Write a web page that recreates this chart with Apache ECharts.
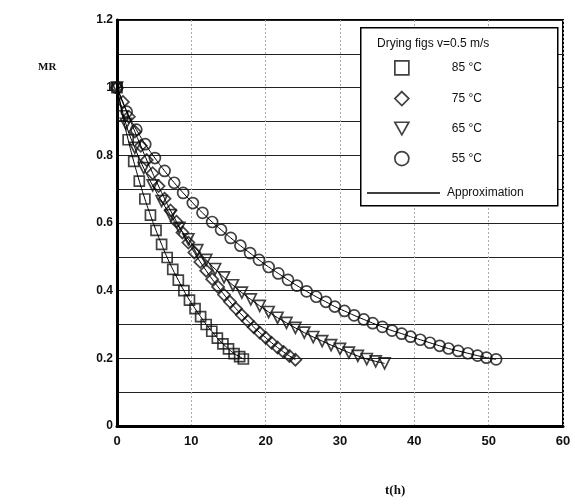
<!DOCTYPE html>
<html>
<head>
<meta charset="utf-8">
<script src="https://cdn.jsdelivr.net/npm/echarts@6.0.0/dist/echarts.min.js"></script>
<style>
html, body { margin: 0; padding: 0; background: #fff; }
#chart { width: 575px; height: 504px; }
</style>
</head>
<body>
<div id="chart"></div>
<script>
// drying time (h) and moisture ratio
const t85 = [0, 0.75, 1.5, 2.25, 3, 3.75, 4.5, 5.25, 6, 6.75, 7.5, 8.25, 9, 9.75, 10.5, 11.25, 12, 12.75, 13.5, 14.25, 15, 15.75, 16.5, 17]
const mr85 = [1, 0.917, 0.846, 0.782, 0.724, 0.671, 0.623, 0.578, 0.537, 0.498, 0.463, 0.431, 0.400, 0.372, 0.347, 0.323, 0.300, 0.280, 0.260, 0.243, 0.228, 0.214, 0.205, 0.198]

const t75 = [0, 0.8, 1.6, 2.4, 3.2, 4, 4.8, 5.6, 6.4, 7.2, 8, 8.8, 9.6, 10.4, 11.2, 12, 12.8, 13.6, 14.4, 15.2, 16, 16.8, 17.6, 18.4, 19.2, 20, 20.8, 21.6, 22.4, 23.2, 24]
const mr75 = [1, 0.958, 0.914, 0.870, 0.828, 0.786, 0.747, 0.709, 0.672, 0.637, 0.604, 0.572, 0.542, 0.513, 0.485, 0.459, 0.434, 0.411, 0.388, 0.367, 0.347, 0.328, 0.310, 0.292, 0.276, 0.261, 0.246, 0.232, 0.219, 0.207, 0.196]

const t65 = [0, 1.2, 2.4, 3.6, 4.8, 6, 7.2, 8.4, 9.6, 10.8, 12, 13.2, 14.4, 15.6, 16.8, 18, 19.2, 20.4, 21.6, 22.8, 24, 25.2, 26.4, 27.6, 28.8, 30, 31.2, 32.4, 33.6, 34.8, 36]
const mr65 = [1, 0.893, 0.822, 0.762, 0.711, 0.665, 0.623, 0.586, 0.552, 0.520, 0.491, 0.464, 0.439, 0.416, 0.394, 0.374, 0.355, 0.337, 0.320, 0.305, 0.290, 0.276, 0.263, 0.251, 0.239, 0.228, 0.217, 0.207, 0.198, 0.191, 0.185]

const t55 = [0, 1.3, 2.6, 3.8, 5.1, 6.4, 7.7, 8.9, 10.2, 11.5, 12.8, 14, 15.3, 16.6, 17.9, 19.1, 20.4, 21.7, 23, 24.2, 25.5, 26.8, 28.1, 29.3, 30.6, 31.9, 33.2, 34.4, 35.7, 37, 38.3, 39.5, 40.8, 42.1, 43.4, 44.6, 45.9, 47.2, 48.5, 49.7, 51]
const mr55 = [1, 0.929, 0.876, 0.833, 0.792, 0.754, 0.719, 0.689, 0.659, 0.630, 0.603, 0.580, 0.556, 0.533, 0.511, 0.491, 0.470, 0.451, 0.432, 0.415, 0.398, 0.382, 0.367, 0.353, 0.340, 0.327, 0.315, 0.304, 0.293, 0.282, 0.273, 0.264, 0.255, 0.246, 0.237, 0.229, 0.222, 0.215, 0.208, 0.202, 0.197]

const seriesNames = ['85 °C', '75 °C', '65 °C', '55 °C']
const yTickLabels = ['0', '0.2', '0.4', '0.6', '0.8', '1', '1.2']
const xTickLabels = ['0', '10', '20', '30', '40', '50', '60']

const pairs = (t, mr) => t.map((v, i) => [v, mr[i]])
const sets = [pairs(t85, mr85), pairs(t75, mr75), pairs(t65, mr65), pairs(t55, mr55)]
const downTriangle = 'path://M0,0 L10,0 L5,9 Z'
const shapes = [
  { symbol: 'rect', size: 10 },
  { symbol: 'diamond', size: 12 },
  { symbol: downTriangle, size: 11 },
  { symbol: 'circle', size: 11 },
]
const markerStyle = { color: 'rgba(255,255,255,0)', borderColor: '#111', borderWidth: 1.7 }

const markerSeries = sets.map((data, i) => ({
  name: seriesNames[i],
  type: 'scatter',
  data: data,
  symbol: shapes[i].symbol,
  symbolSize: shapes[i].size,
  itemStyle: markerStyle,
  z: 3,
}))

const fitSeries = sets.map(data => ({
  name: 'Approximation',
  type: 'line',
  data: data,
  symbol: 'none',
  smooth: true,
  itemStyle: { color: '#000' },
  lineStyle: { color: '#000', width: 1 },
  z: 4,
}))

const chart = echarts.init(document.getElementById('chart'))
chart.setOption({
  animation: false,
  grid: {
    left: 117, right: 12, top: 20, bottom: 78,
    show: true, borderColor: '#000', borderWidth: 2,
  },
  xAxis: {
    type: 'value', min: 0, max: 60, interval: 10,
    axisLine: { lineStyle: { color: '#000', width: 3 } },
    axisTick: { show: false },
    axisLabel: {
      color: '#111', fontWeight: 'bold', fontSize: 13, margin: 9,
      fontFamily: 'Liberation Sans',
      formatter: v => xTickLabels[Math.round(v / 10)],
    },
    splitLine: { show: true, lineStyle: { color: '#aaa', type: [2, 2], width: 1 } },
  },
  yAxis: {
    type: 'value', min: 0, max: 1.2, interval: 0.1,
    axisLine: { lineStyle: { color: '#000', width: 3 } },
    axisTick: { show: false },
    axisLabel: {
      color: '#111', fontWeight: 'bold', fontSize: 12, margin: 4,
      fontFamily: 'Liberation Sans',
      formatter: v => {
        let k = Math.round(v * 10)
        return k % 2 === 0 ? yTickLabels[k / 2] : ''
      },
    },
    splitLine: { show: true, lineStyle: { color: '#222', width: 1 } },
  },
  legend: [
    {
      data: seriesNames.map((name, i) => ({ name: name, icon: shapes[i].symbol, itemStyle: markerStyle })),
      orient: 'vertical',
      left: 394, top: 60,
      padding: 0,
      itemGap: 15,
      itemWidth: 14,
      itemHeight: 14,
      textStyle: { fontSize: 12, color: '#111', fontFamily: 'Liberation Sans', padding: [0, 0, 0, 38] },
      z: 6,
    },
    {
      data: [{ name: 'Approximation', icon: 'rect' }],
      left: 367, top: 187,
      padding: 0,
      itemWidth: 73,
      itemHeight: 1.5,
      textStyle: { fontSize: 12, color: '#111', fontFamily: 'Liberation Sans', padding: [0, 0, 0, 2] },
      z: 6,
    },
  ],
  graphic: [
    {
      type: 'rect', left: 360, top: 27, z: 5,
      shape: { width: 197, height: 178 },
      style: { fill: '#fff', stroke: '#000', lineWidth: 1.5 },
    },
    {
      type: 'text', left: 377, top: 38, z: 7,
      style: { text: 'Drying figs v=0.5 m/s', font: '12px "Liberation Sans"', fill: '#111' },
    },
    {
      type: 'text', left: 38, top: 62,
      style: { text: 'MR', font: 'bold 11px "Liberation Serif"', fill: '#111' },
    },
    {
      type: 'text', left: 385, top: 484,
      style: { text: 't(h)', font: 'bold 13px "Liberation Serif"', fill: '#111' },
    },
  ],
  series: markerSeries.concat(fitSeries),
})
</script>
</body>
</html>
